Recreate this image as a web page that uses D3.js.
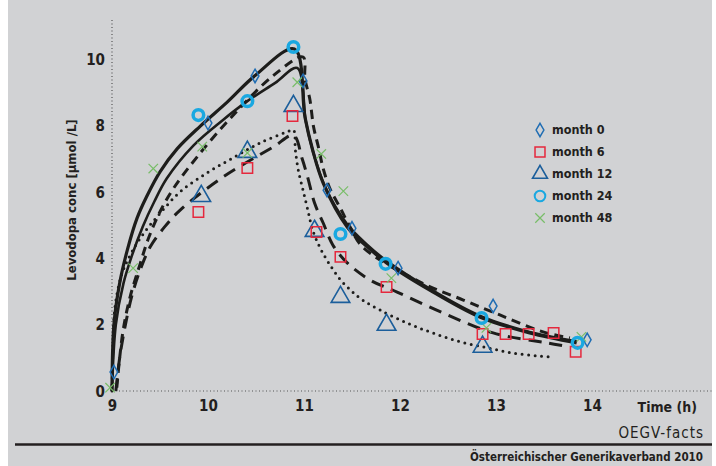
<!DOCTYPE html>
<html><head><meta charset="utf-8">
<script src="https://cdn.jsdelivr.net/npm/d3@7"></script>
<style>
html,body{margin:0;padding:0;background:#fff;}
svg{display:block;}
text{font-family:"DejaVu Sans Condensed","Liberation Sans Narrow",sans-serif;fill:#231f20;}
</style></head>
<body>
<svg id="c" width="716" height="466"></svg>
<script>
// ---- data ----
const xTicks = [9, 10, 11, 12, 13, 14];
const yTicks = [0, 2, 4, 6, 8, 10];
const seriesNames = ["month 0", "month 6", "month 12", "month 24", "month 48"];

const month0 = [[9.02,0.57],[10.0,8.07],[10.49,9.49],[10.99,9.34],[11.24,6.05],[11.5,4.9],[11.98,3.7],[12.97,2.56],[13.95,1.54]];
const month6 = [[9.9,5.39],[10.41,6.72],[10.88,8.28],[11.13,4.79],[11.38,4.04],[11.86,3.13],[12.86,1.72],[13.1,1.72],[13.34,1.72],[13.6,1.75],[13.83,1.18]];
const month12 = [[9.93,5.87],[10.41,7.2],[10.89,8.58],[11.11,4.82],[11.38,2.83],[11.86,1.99],[12.86,1.33]];
const month24 = [[9.9,8.31],[10.41,8.73],[10.89,10.36],[11.38,4.73],[11.85,3.83],[12.85,2.2],[13.85,1.45]];
const month48 = [[8.98,0.1],[9.22,3.7],[9.43,6.7],[9.94,7.36],[10.41,7.17],[10.93,9.3],[11.18,7.14],[11.41,6.02],[11.91,3.4],[12.9,1.9],[13.89,1.63]];

// fitted curves
const fitSolidA = [[9.0,0],[9.02,2.0],[9.08,3.25],[9.16,4.25],[9.26,5.2],[9.36,5.85],[9.5,6.6],[9.68,7.3],[9.92,7.98],[10.2,8.7],[10.49,9.5],[10.9,10.3],[11.01,8.25],[11.09,7.26],[11.2,6.26],[11.45,4.94],[11.66,4.34],[11.86,3.86],[12.31,3.04],[12.83,2.23],[13.35,1.75],[13.84,1.45]];
const fitSolidB = [[9.0,0],[9.04,2.0],[9.12,3.25],[9.21,4.1],[9.32,4.95],[9.44,5.7],[9.57,6.4],[9.85,7.4],[10.15,8.15],[10.41,8.73],[10.7,9.28],[10.93,9.73],[11.02,8.1],[11.1,7.15],[11.22,6.15],[11.45,5.02],[11.66,4.4],[11.86,3.92],[12.31,3.08],[12.83,2.27],[13.35,1.78],[13.84,1.5]];
const fitDashC = [[9.05,0.1],[9.08,1.0],[9.12,1.9],[9.19,2.85],[9.29,3.8],[9.38,4.6],[9.5,5.4],[9.64,6.1],[9.9,7.1],[10.26,8.3],[10.68,9.5],[10.99,10.06],[11.01,9.4],[11.06,8.8],[11.1,7.95],[11.15,7.35],[11.2,6.7],[11.27,6.1],[11.38,5.5],[11.48,4.94],[11.61,4.34],[12.21,3.28],[12.66,2.74],[13.04,2.29],[13.49,1.78],[13.77,1.6]];
const fitLongDashD = [[9.04,0],[9.08,1.0],[9.14,2.0],[9.21,2.9],[9.3,3.7],[9.4,4.35],[9.55,4.95],[9.71,5.45],[10.16,6.45],[10.68,7.35],[10.89,7.7],[10.98,7.0],[11.04,6.42],[11.11,5.66],[11.2,5.06],[11.3,4.4],[11.45,3.86],[11.69,3.34],[11.97,2.98],[12.45,2.35],[12.97,1.75],[13.53,1.45],[13.77,1.33]];
const fitDotE = [[9.0,0],[9.01,1.3],[9.03,2.5],[9.1,3.5],[9.2,4.15],[9.33,4.75],[9.5,5.35],[9.71,6.0],[9.99,6.57],[10.26,7.02],[10.54,7.47],[10.82,7.8],[10.89,7.86],[10.91,7.26],[10.94,6.66],[10.99,6.05],[11.04,5.45],[11.09,4.85],[11.17,4.3],[11.27,3.8],[11.38,3.35],[11.5,3.0],[11.61,2.74],[11.79,2.44],[12.07,2.05],[12.34,1.75],[12.63,1.48],[12.91,1.3],[13.18,1.14],[13.46,1.05],[13.58,1.02]];

// ---- drawing ----
const svg = d3.select("#c");
svg.append("rect").attr("x",8).attr("y",0).attr("width",704).attr("height",466).attr("fill","#d1d2d4");

const x = d3.scaleLinear().domain([9,14]).range([112,592]);
const y = d3.scaleLinear().domain([0,10]).range([391,59]);

// dotted axes
svg.append("line").attr("x1",112).attr("x2",112).attr("y1",20).attr("y2",391)
  .attr("stroke","#555").attr("stroke-width",1.2).attr("stroke-dasharray","1,2.5");
svg.append("line").attr("x1",112).attr("x2",712).attr("y1",391).attr("y2",391)
  .attr("stroke","#555").attr("stroke-width",1.2).attr("stroke-dasharray","1,2.5");

const yAxis = d3.axisLeft(y).tickValues(yTicks).tickSize(0).tickPadding(0).tickFormat(d3.format("d"));
const gy = svg.append("g").attr("transform","translate(105,0)").call(yAxis);
gy.select(".domain").remove();
gy.selectAll("text").attr("font-size",15).attr("font-weight","bold").attr("fill","#231f20")
  .attr("font-family","DejaVu Sans Condensed").attr("dy","0.35em").attr("x",0);

const xAxis = d3.axisBottom(x).tickValues(xTicks).tickSize(0).tickPadding(0).tickFormat(d3.format("d"));
const gx = svg.append("g").attr("transform","translate(0,400)").call(xAxis);
gx.select(".domain").remove();
gx.selectAll("text").attr("font-size",15).attr("font-weight","bold").attr("fill","#231f20")
  .attr("font-family","DejaVu Sans Condensed").attr("dy","0.71em").attr("y",0);

svg.append("text").attr("x",697).attr("y",412).attr("text-anchor","end")
  .attr("font-size",14).attr("font-weight","bold").text("Time (h)");

svg.append("text").attr("transform","translate(76,200) rotate(-90)").attr("text-anchor","middle")
  .attr("font-size",13).attr("font-weight","bold").text("Levodopa conc [µmol /L]");

// curves
const line = d3.line().x(d=>x(d[0])).y(d=>y(d[1])).curve(d3.curveCatmullRom.alpha(0.5));
const curves = [
  {d:fitDotE, dash:"0,6.5", w:3},
  {d:fitLongDashD, dash:"13,8", w:3},
  {d:fitDashC, dash:"9,6", w:3},
  {d:fitSolidB, dash:null, w:2.6},
  {d:fitSolidA, dash:null, w:3.2}
];
curves.forEach(c=>{
  svg.append("path").attr("d",line(c.d)).attr("fill","none").attr("stroke","#1d1d1b")
    .attr("stroke-width",c.w).attr("stroke-linecap", c.dash && c.dash.startsWith("0") ? "round" : "butt")
    .attr("stroke-linejoin","round")
    .attr("stroke-dasharray",c.dash);
});

// markers
const sym = {
  diamond: d3.symbol().type(d3.symbolDiamond).size(52),
  square: d3.symbol().type(d3.symbolSquare).size(110),
  triangle: d3.symbol().type(d3.symbolTriangle).size(150),
  x: d3.symbol().type(d3.symbolX || d3.symbolCross).size(60)
};
const styles = [
  {name:seriesNames[0], data:month0, kind:"diamond", color:"#1f6db3", w:1.5},
  {name:seriesNames[1], data:month6, kind:"square", color:"#e5283d", w:1.5},
  {name:seriesNames[2], data:month12, kind:"triangle", color:"#1b5e9b", w:1.6},
  {name:seriesNames[3], data:month24, kind:"circle", color:"#1aa8e1", w:3.5},
  {name:seriesNames[4], data:month48, kind:"x", color:"#78bd68", w:1.2}
];
function drawMarker(g, kind, cx, cy, color, w, scale){
  scale = scale || 1;
  if(kind==="circle"){
    g.append("circle").attr("cx",cx).attr("cy",cy).attr("r",5.3*scale).attr("fill","none")
      .attr("stroke",color).attr("stroke-width",w*scale);
  } else {
    let s = sym[kind];
    let tr = `translate(${cx},${cy})` + (kind==="x" && !d3.symbolX ? " rotate(45)" : "") + ` scale(${scale})`;
    g.append("path").attr("d",s()).attr("transform",tr).attr("fill","none")
      .attr("stroke",color).attr("stroke-width",w/scale);
  }
}
const mg = svg.append("g");
[styles[2], styles[1], styles[0], styles[4], styles[3]].forEach(s=>{
  s.data.forEach(p=>drawMarker(mg, s.kind, x(p[0]), y(p[1]), s.color, s.w));
});

// legend
const lg = svg.append("g");
styles.forEach((s,i)=>{
  const ly = 130 + i*22;
  drawMarker(lg, s.kind, 540, ly, s.color, s.kind==="circle"?2:s.w, s.kind==="triangle"?0.8:(s.kind==="square"?0.95:1));
  lg.append("text").attr("x",552).attr("y",ly).attr("dy","0.35em").attr("font-size",12.5)
    .attr("font-weight","bold").attr("fill","#333").text(s.name);
});

// footer
svg.append("text").attr("x",704).attr("y",438).attr("text-anchor","end").attr("font-size",15)
  .attr("fill","#8c8c8c").attr("letter-spacing","1").attr("font-family","DejaVu Sans Mono").text("OEGV-facts");
svg.append("line").attr("x1",15).attr("x2",712).attr("y1",444.5).attr("y2",444.5).attr("stroke","#231f20").attr("stroke-width",2.5);
svg.append("text").attr("x",703).attr("y",461).attr("text-anchor","end").attr("font-size",11.5)
  .attr("font-weight","bold").text("Österreichischer Generikaverband 2010");
</script>
</body></html>
